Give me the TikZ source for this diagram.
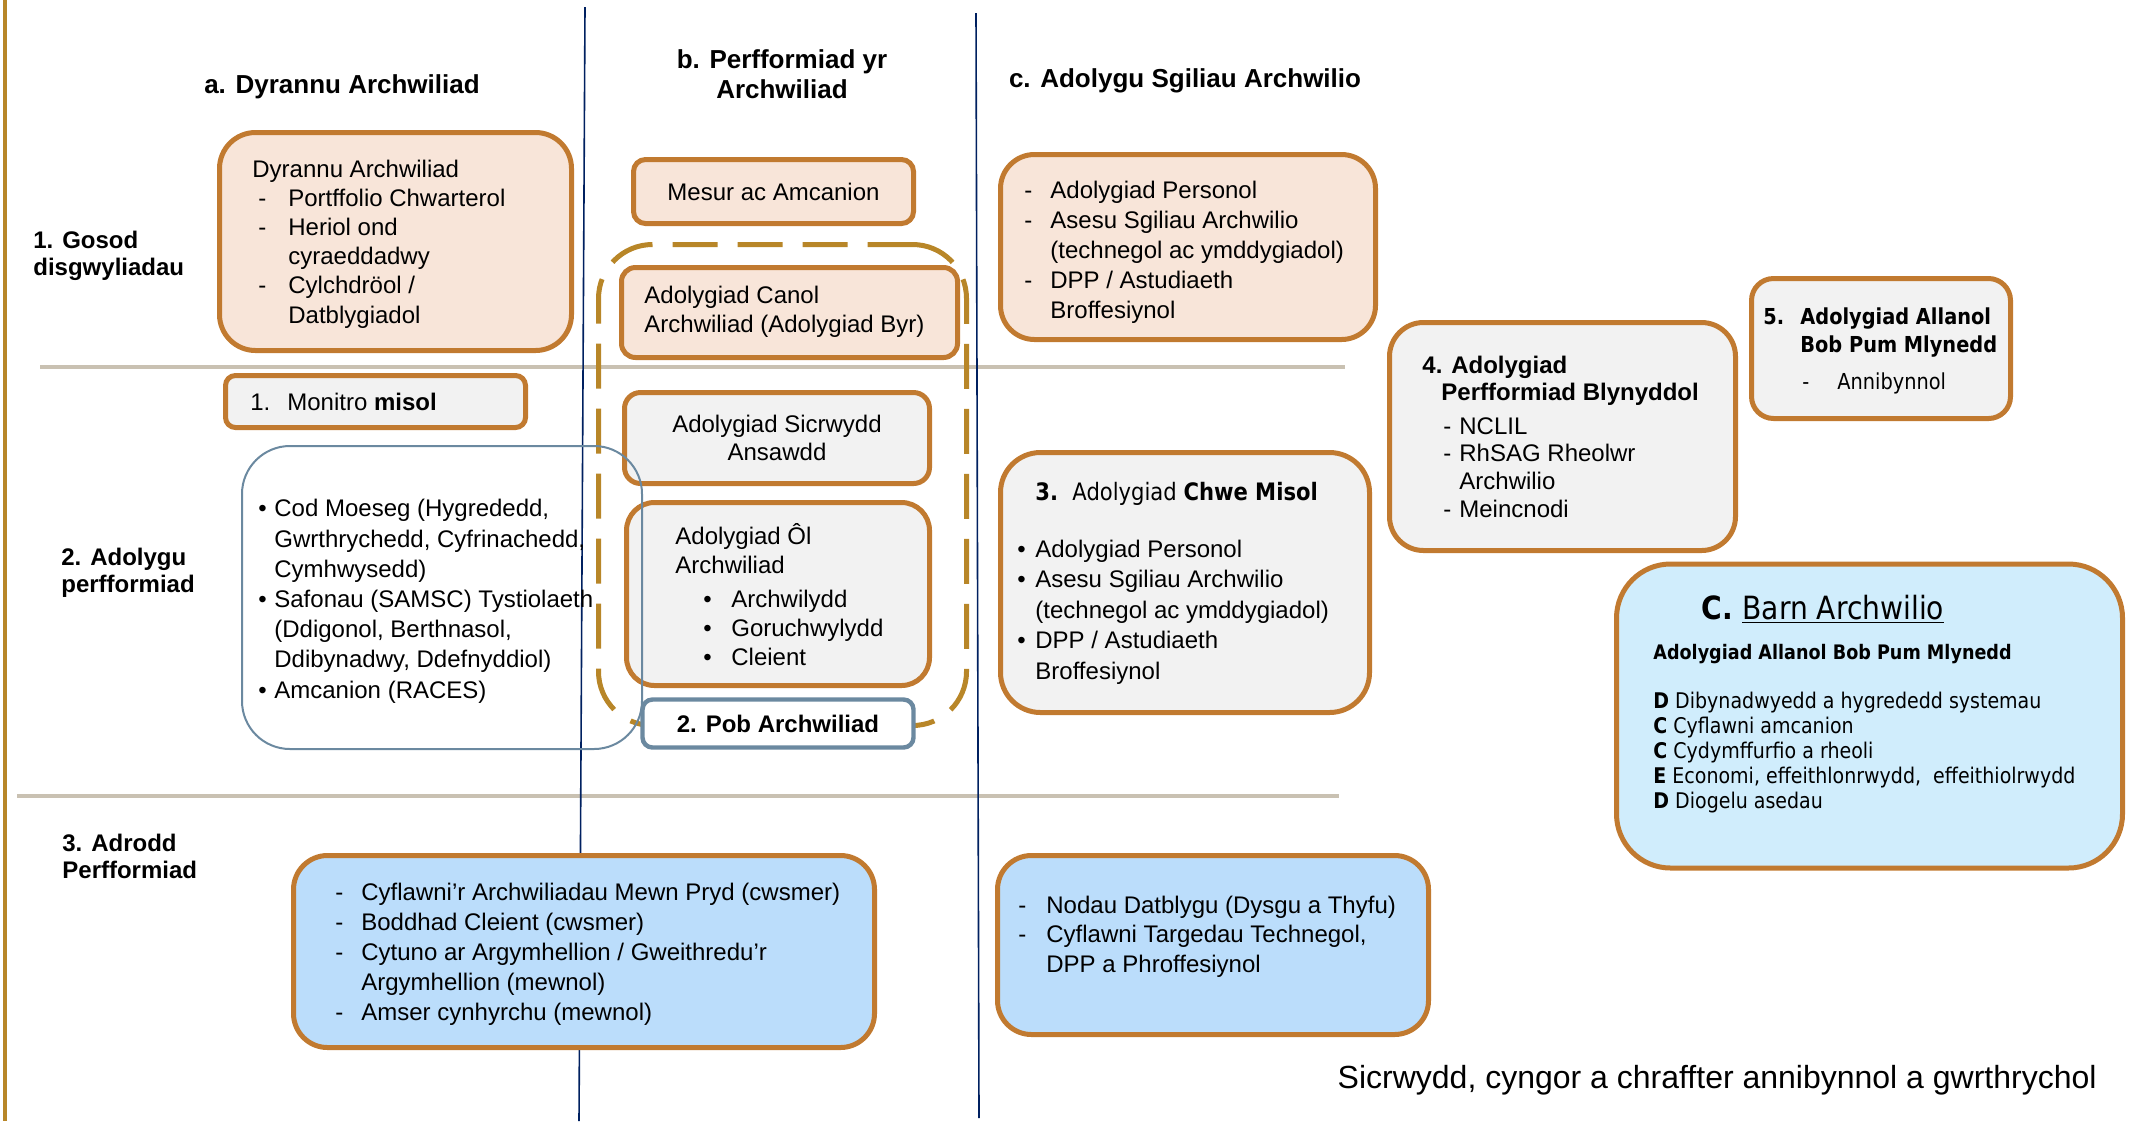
\documentclass[tikz,border=0pt]{standalone}
\usepackage{fontspec}
\setmainfont{Liberation Sans}
\newfontfamily\tahoma[FakeStretch=0.88]{DejaVu Sans}
\definecolor{boxbrown}{RGB}{193,122,48}
\definecolor{dashgold}{RGB}{184,134,40}
\definecolor{peach}{RGB}{248,229,217}
\definecolor{boxgrey}{RGB}{242,242,242}
\definecolor{lightblue}{RGB}{187,221,251}
\definecolor{paleblue}{RGB}{208,237,252}
\definecolor{steel}{RGB}{107,137,160}
\definecolor{navy}{RGB}{0,32,96}
\definecolor{beige}{RGB}{201,193,178}
\begin{document}
\begin{tikzpicture}[x=0.5pt, y=-0.5pt,
    box/.style={draw=boxbrown, line width=2.5pt, inner sep=0pt, outer sep=0pt},
    peachbox/.style={box, fill=peach},
    greybox/.style={box, fill=boxgrey},
    bluebox/.style={box, fill=lightblue},
    txt/.style={anchor=base west, align=left, inner sep=0pt, font=\fontsize{12}{15}\selectfont},
    head/.style={anchor=base, align=center, inner sep=0pt, font=\fontsize{13}{15}\selectfont\bfseries},
    rowlabel/.style={txt, font=\fontsize{12}{13.5}\selectfont\bfseries}]
  \useasboundingbox (0,0) rectangle (2136,1121);
  \draw[line width=2pt, dashgold] (5,0) -- (5,1121);
  \draw[line width=2pt, beige] (40,367) -- (1345,367);
  \draw[line width=2pt, beige] (17,796) -- (1339,796);
  \draw[line width=0.8pt, navy] (585,7) -- (579,1121);
  \draw[line width=0.8pt, navy] (976,13) -- (979,1118);

  \node[head] (hA) at (342,93) {a. Dyrannu Archwiliad};
  \node[head] (hB) at (782,98) {b. Perfformiad yr\\Archwiliad};
  \node[head] (hC) at (1185,87) {c. Adolygu Sgiliau Archwilio};
  \node[rowlabel] (r1) at (33,275) {1. Gosod\\disgwyliadau};
  \node[rowlabel] (r2) at (61,592) {2. Adolygu\\perfformiad};
  \node[rowlabel] (r3) at (62,878) {3. Adrodd\\Perfformiad};

  \node[peachbox, rounded corners=18pt, minimum width=176pt, minimum height=109pt] (dyrannu) at (395.5,241.5) {};
  \node[txt, font=\fontsize{12}{14.6}\selectfont] (dyrannuT) at (252,323) {Dyrannu Archwiliad\\
    \hspace*{3pt}\makebox[15pt][l]{-}Portffolio Chwarterol\\
    \hspace*{3pt}\makebox[15pt][l]{-}Heriol ond\\
    \hspace*{18pt}cyraeddadwy\\
    \hspace*{3pt}\makebox[15pt][l]{-}Cylchdröol /\\
    \hspace*{18pt}Datblygiadol};
  \node[peachbox, rounded corners=6pt, minimum width=140pt, minimum height=32pt, font=\fontsize{12}{15}\selectfont] (mesur) at (773.5,191.5) {Mesur ac Amcanion};
  \node[peachbox, rounded corners=7pt, minimum width=168pt, minimum height=45pt] (canol) at (789.5,312.5) {};
  \node[txt, font=\fontsize{12}{14.5}\selectfont] (canolT) at (644,332) {Adolygiad Canol\\Archwiliad (Adolygiad Byr)};
  \node[greybox, rounded corners=5pt, minimum width=150pt, minimum height=26pt] (monitro) at (375.5,401.5) {};
  \node[txt] (monitroT) at (250,410) {\makebox[18.5pt][l]{1.}Monitro \textbf{misol}};
  \node[greybox, rounded corners=8pt, minimum width=152.5pt, minimum height=45.5pt, align=center, font=\fontsize{12}{14}\selectfont] (sicrwydd) at (777,438) {Adolygiad Sicrwydd\\Ansawdd};
  \node[greybox, rounded corners=14pt, minimum width=151.5pt, minimum height=91.5pt] (ol) at (778,594) {};
  \node[txt, font=\fontsize{12}{14.5}\selectfont] (olT) at (675,665) {Adolygiad Ôl\\Archwiliad\\[2.5pt]
    \hspace*{14pt}\makebox[14pt][l]{\textbullet}Archwilydd\\
    \hspace*{14pt}\makebox[14pt][l]{\textbullet}Goruchwylydd\\
    \hspace*{14pt}\makebox[14pt][l]{\textbullet}Cleient};
  \node[draw=dashgold, line width=2.5pt, dash pattern=on 22.5pt off 10pt, rounded corners=27pt, minimum width=184pt, minimum height=240.5pt, inner sep=0pt] (grwp) at (782.5,485) {};
  \node[draw=steel, line width=1pt, rounded corners=24pt, minimum width=200pt, minimum height=151.5pt, inner sep=0pt] (codau) at (442,597.5) {};
  \node[txt, font=\fontsize{12}{15.1}\selectfont] (codauT) at (258,698) {\makebox[8pt][l]{\textbullet}Cod Moeseg (Hygrededd,\\
    \hspace*{8pt}Gwrthrychedd, Cyfrinachedd,\\
    \hspace*{8pt}Cymhwysedd)\\
    \makebox[8pt][l]{\textbullet}Safonau (SAMSC) Tystiolaeth\\
    \hspace*{8pt}(Ddigonol, Berthnasol,\\
    \hspace*{8pt}Ddibynadwy, Ddefnyddiol)\\
    \makebox[8pt][l]{\textbullet}Amcanion (RACES)};
  \node[draw=steel, line width=2.2pt, fill=white, rounded corners=5pt, minimum width=135.5pt, minimum height=24pt, inner sep=0pt, font=\fontsize{12}{15}\selectfont\bfseries] (pob) at (778,723.5) {2. Pob Archwiliad};

  \node[peachbox, rounded corners=17pt, minimum width=187.5pt, minimum height=92.5pt] (sgiliau) at (1188,247) {};
  \node[txt] (sgiliauT) at (1024,318) {\makebox[13pt][l]{-}Adolygiad Personol\\
    \makebox[13pt][l]{-}Asesu Sgiliau Archwilio\\
    \hspace*{13pt}(technegol ac ymddygiadol)\\
    \makebox[13pt][l]{-}DPP / Astudiaeth\\
    \hspace*{13pt}Broffesiynol};
  \node[greybox, rounded corners=20pt, minimum width=184.5pt, minimum height=130pt] (chwe) at (1185,582.5) {};
  \node[txt, font=\tahoma\fontsize{12}{15}\selectfont] (chweH) at (1035,500) {\makebox[18.5pt][l]{\textbf{3.}}Adolygiad \textbf{Chwe Misol}};
  \node[txt, font=\fontsize{12}{15.25}\selectfont] (chweT) at (1017,679) {\makebox[9pt][l]{\textbullet}Adolygiad Personol\\
    \makebox[9pt][l]{\textbullet}Asesu Sgiliau Archwilio\\
    \hspace*{9pt}(technegol ac ymddygiadol)\\
    \makebox[9pt][l]{\textbullet}DPP / Astudiaeth\\
    \hspace*{9pt}Broffesiynol};
  \node[greybox, rounded corners=17pt, minimum width=173pt, minimum height=114pt] (blynyddol) at (1562.5,436.5) {};
  \node[txt, font=\fontsize{12}{13.8}\selectfont] (blynyddolT) at (1422,517) {\textbf{4. Adolygiad}\\
    \hspace*{9.5pt}\textbf{Perfformiad Blynyddol}\\[3pt]
    \hspace*{10.5pt}\makebox[8pt][l]{-}NCLIL\\
    \hspace*{10.5pt}\makebox[8pt][l]{-}RhSAG Rheolwr\\
    \hspace*{18.5pt}Archwilio\\
    \hspace*{10.5pt}\makebox[8pt][l]{-}Meincnodi};
  \node[greybox, rounded corners=11pt, minimum width=129.5pt, minimum height=70pt] (allanol) at (1881,348.5) {};
  \node[txt, font=\tahoma\fontsize{11}{14}\selectfont\bfseries] (allanolT) at (1763,389) {\makebox[18.5pt][l]{5.}Adolygiad Allanol\\
    \hspace*{18.5pt}Bob Pum Mlynedd\\[4.5pt]
    \hspace*{19.5pt}\makebox[17.5pt][l]{\mdseries -}{\mdseries Annibynnol}};
  \node[box, fill=paleblue, rounded corners=27pt, minimum width=253pt, minimum height=152pt] (barn) at (1869.5,716) {};
  \node[txt, font=\tahoma\fontsize{16}{18}\selectfont] (barnH) at (1701,619) {\makebox[20.5pt][l]{\textbf{C.}}\underline{Barn Archwilio}};
  \node[txt, font=\tahoma\fontsize{10}{12}\selectfont\bfseries] (barnS) at (1653,659) {Adolygiad Allanol Bob Pum Mlynedd};
  \node[txt, font=\tahoma\fontsize{10.8}{12.5}\selectfont] (barnT) at (1653,808) {\textbf{D} Dibynadwyedd a hygrededd systemau\\
    \textbf{C} Cyflawni amcanion\\
    \textbf{C} Cydymffurfio a rheoli\\
    \textbf{E} Economi, effeithlonrwydd,\ \ effeithiolrwydd\\
    \textbf{D} Diogelu asedau};

  \node[bluebox, rounded corners=17pt, minimum width=290.5pt, minimum height=96pt] (adrodd) at (584,951.5) {};
  \node[txt] (adroddT) at (335,1020) {\makebox[13pt][l]{-}Cyflawni’r Archwiliadau Mewn Pryd (cwsmer)\\
    \makebox[13pt][l]{-}Boddhad Cleient (cwsmer)\\
    \makebox[13pt][l]{-}Cytuno ar Argymhellion / Gweithredu’r\\
    \hspace*{13pt}Argymhellion (mewnol)\\
    \makebox[13pt][l]{-}Amser cynhyrchu (mewnol)};
  \node[bluebox, rounded corners=17pt, minimum width=215.5pt, minimum height=89.5pt] (nodau) at (1213,945) {};
  \node[txt, font=\fontsize{12}{14.75}\selectfont] (nodauT) at (1018,972) {\makebox[14pt][l]{-}Nodau Datblygu (Dysgu a Thyfu)\\
    \makebox[14pt][l]{-}Cyflawni Targedau Technegol,\\
    \hspace*{14pt}DPP a Phroffesiynol};
  \node[txt, anchor=base east, font=\fontsize{16}{18}\selectfont] (troed) at (2097,1088) {Sicrwydd, cyngor a chraffter annibynnol a gwrthrychol};

\end{tikzpicture}
\end{document}
